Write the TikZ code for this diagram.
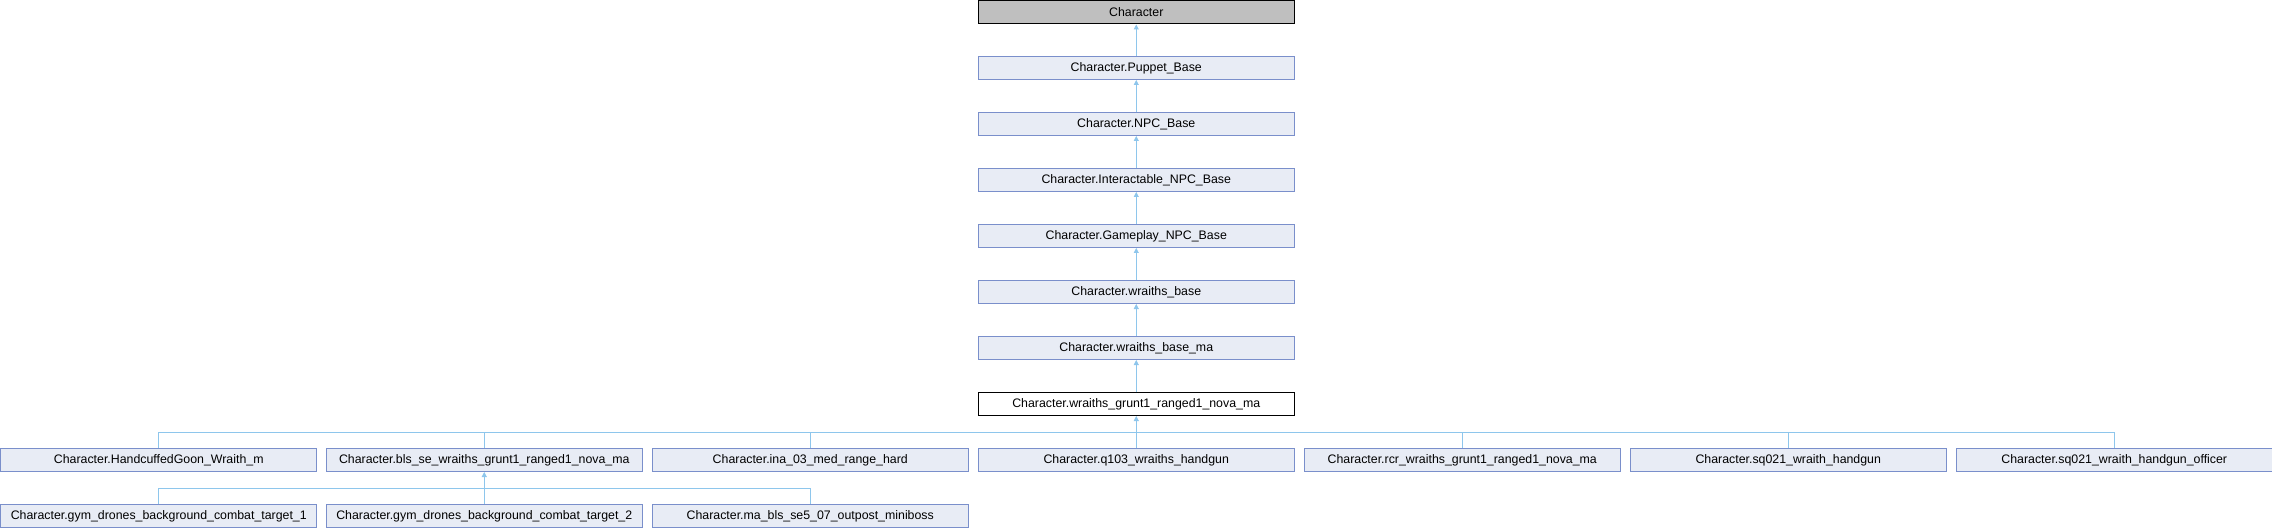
\documentclass[tikz,border=0pt]{standalone}
\usepackage{fontspec}
\setmainfont{Liberation Sans}
\usetikzlibrary{arrows.meta}
\definecolor{nodefill}{HTML}{E8ECF5}
\definecolor{nodeline}{HTML}{7A8FCB}
\definecolor{edgecol}{HTML}{8EC6EC}
\definecolor{rootfill}{HTML}{BFBFBF}
\tikzset{
  cls/.style={draw=nodeline, fill=nodefill, line width=1bp, minimum width=315.5bp, minimum height=23bp, inner sep=0pt, anchor=north west, font=\fontsize{12.4}{14}\selectfont},
  rootcls/.style={cls, draw=black, fill=rootfill},
  curcls/.style={cls, draw=black, fill=white},
  inh/.style={draw=edgecol, line width=1bp, -{Triangle[length=5bp,width=5bp]}},
  lnk/.style={draw=edgecol, line width=1bp}
}
\begin{document}
\begin{tikzpicture}[x=1bp,y=1bp]
\useasboundingbox (0,0) rectangle (2272,-528);
\node[rootcls] (c0) at (978,-0.5) {Character};
\node[cls] (c1) at (978,-56) {Character.Puppet\_Base};
\node[cls] (c2) at (978,-112) {Character.NPC\_Base};
\node[cls] (c3) at (978,-168) {Character.Interactable\_NPC\_Base};
\node[cls] (c4) at (978,-224) {Character.Gameplay\_NPC\_Base};
\node[cls] (c5) at (978,-280) {Character.wraiths\_base};
\node[cls] (c6) at (978,-336) {Character.wraiths\_base\_ma};
\node[curcls] (c7) at (978,-392) {Character.wraiths\_grunt1\_ranged1\_nova\_ma};
\node[cls] (d0) at (0.5,-448) {Character.HandcuffedGoon\_Wraith\_m};
\node[cls] (d1) at (326,-448) {Character.bls\_se\_wraiths\_grunt1\_ranged1\_nova\_ma};
\node[cls] (d2) at (652,-448) {Character.ina\_03\_med\_range\_hard};
\node[cls] (d3) at (978,-448) {Character.q103\_wraiths\_handgun};
\node[cls] (d4) at (1304,-448) {Character.rcr\_wraiths\_grunt1\_ranged1\_nova\_ma};
\node[cls] (d5) at (1630,-448) {Character.sq021\_wraith\_handgun};
\node[cls] (d6) at (1956,-448) {Character.sq021\_wraith\_handgun\_officer};
\node[cls] (e0) at (0.5,-504) {Character.gym\_drones\_background\_combat\_target\_1};
\node[cls] (e1) at (326,-504) {Character.gym\_drones\_background\_combat\_target\_2};
\node[cls] (e2) at (652,-504) {Character.ma\_bls\_se5\_07\_outpost\_miniboss};
\draw[inh] (c1.north) -- (c0.south);
\draw[inh] (c2.north) -- (c1.south);
\draw[inh] (c3.north) -- (c2.south);
\draw[inh] (c4.north) -- (c3.south);
\draw[inh] (c5.north) -- (c4.south);
\draw[inh] (c6.north) -- (c5.south);
\draw[inh] (c7.north) -- (c6.south);
\foreach \n in {d0,d1,d2,d4,d5,d6} \draw[lnk] (\n.north) |- (d3.north |- 0,-432);
\draw[inh] (d3.north) -- (c7.south);
\foreach \n in {e0,e2} \draw[lnk] (\n.north) |- (e1.north |- 0,-488);
\draw[inh] (e1.north) -- (d1.south);
\end{tikzpicture}
\end{document}
